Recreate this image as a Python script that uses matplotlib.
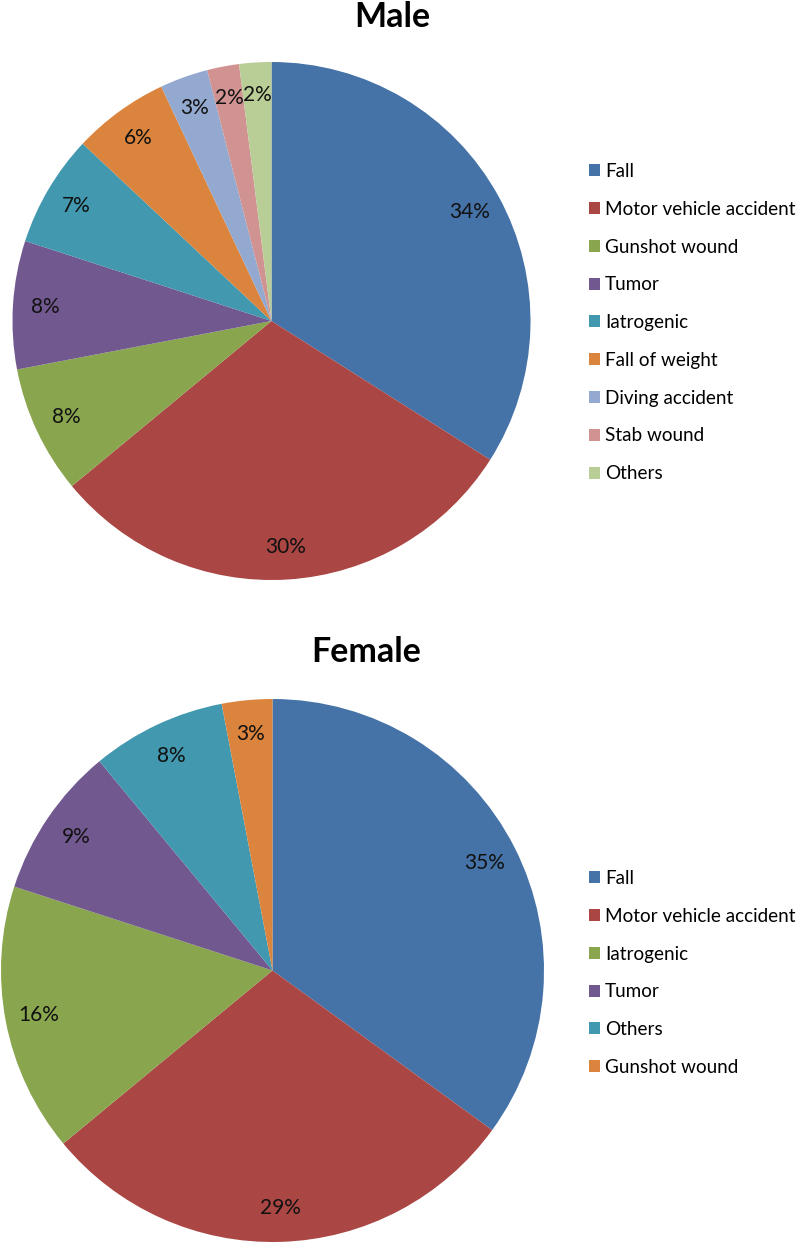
import matplotlib.pyplot as plt

plt.rcParams['font.family'] = ['Lato', 'DejaVu Sans']

# data
male_labels = ["Fall", "Motor vehicle accident", "Gunshot wound", "Tumor", "Iatrogenic",
               "Fall of weight", "Diving accident", "Stab wound", "Others"]
male_values = [34, 30, 8, 8, 7, 6, 3, 2, 2]
male_colors = ["#4572A7", "#AA4643", "#89A54E", "#71588F", "#4198AF",
               "#DB843D", "#93A9CF", "#D19392", "#B9CD96"]

female_labels = ["Fall", "Motor vehicle accident", "Iatrogenic", "Tumor", "Others", "Gunshot wound"]
female_values = [35, 29, 16, 9, 8, 3]
female_colors = ["#4572A7", "#AA4643", "#89A54E", "#71588F", "#4198AF", "#DB843D"]

W, H = 800, 1244
fig = plt.figure(figsize=(W / 100, H / 100), dpi=100)


def draw(cx, cy, r, values, labels, colors, title, title_xy, leg_top):
    ax = fig.add_axes([(cx - r) / W, 1 - (cy + r) / H, 2 * r / W, 2 * r / H])
    wedges, texts, autotexts = ax.pie(values, colors=colors, startangle=90, counterclock=False,
                                      autopct='%d%%', pctdistance=0.875, radius=1,
                                      wedgeprops=dict(linewidth=0))
    for t in autotexts:
        t.set_fontsize(15)
        t.set_color('#111111')
    ax.set_xlim(-1, 1)
    ax.set_ylim(-1, 1)
    ax.axis('off')
    fig.text(title_xy[0] / W, 1 - title_xy[1] / H, title, ha='center', va='center',
             fontsize=24.5, fontweight='bold')
    fig.legend(wedges, labels, loc='upper left', bbox_to_anchor=(589 / W, 1 - leg_top / H),
               frameon=False, fontsize=13.6, handlelength=0.6, handleheight=0.6,
               handletextpad=0.25, labelspacing=1.1, borderaxespad=0, borderpad=0)


draw(271.5, 321, 259, male_values, male_labels, male_colors, "Male", (392, 17), 163)
draw(272.5, 970.5, 271.5, female_values, female_labels, female_colors, "Female", (366, 652), 870)

fig.savefig("out.png", dpi=100)
